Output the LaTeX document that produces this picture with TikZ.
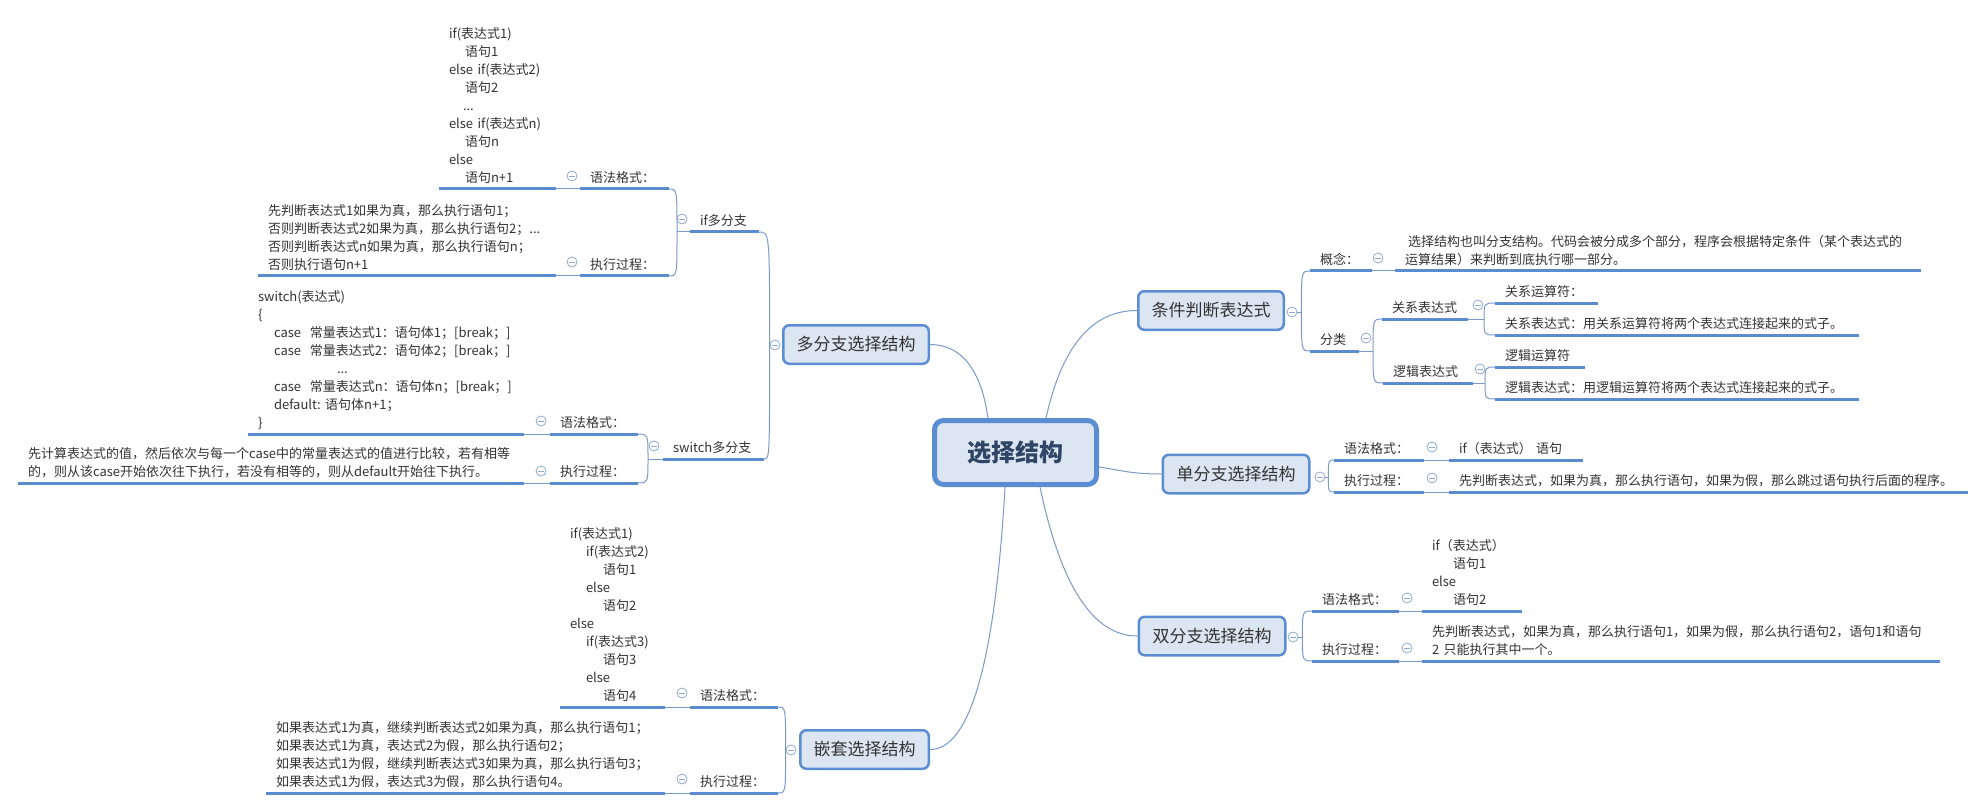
\documentclass[tikz,border=0pt]{standalone}
\usepackage{fontspec}
\setmainfont{Noto Sans CJK SC}
\usetikzlibrary{calc}
\definecolor{boxf}{HTML}{DCE6F2}
\definecolor{bdc}{HTML}{5B8DD3}
\definecolor{ulc}{HTML}{5B8CCF}
\definecolor{lnc}{HTML}{7A9AC8}
\definecolor{btnc}{HTML}{8FAAD2}
\definecolor{txtc}{HTML}{333333}
\definecolor{roottxt}{HTML}{2F4565}
\tikzset{
 root/.style={draw=bdc, line width=5pt, fill=boxf, rounded corners=9pt, inner sep=0pt, minimum width=162pt, minimum height=64pt, font=\fontsize{24}{28}\selectfont\bfseries, text=roottxt},
 lone/.style={draw=bdc, line width=2.5pt, fill=boxf, rounded corners=6pt, inner sep=0pt, minimum height=38.5pt, font=\fontsize{17}{20}\selectfont, text=txtc},
 topic/.style={anchor=south west, inner xsep=10pt, inner ysep=1.5pt, outer sep=0pt, align=left, text width=#1pt, font=\fontsize{13}{18}\selectfont, text=txtc, execute at end node=\strut},
 ul/.style={draw=ulc, line width=3pt},
 conn/.style={draw=lnc, line width=1pt},
 btn/.style={circle, draw=btnc, fill=white, line width=0.8pt, inner sep=0pt, minimum size=10pt, path picture={\draw[btnc, line width=0.8pt] ([xshift=-2.6pt]path picture bounding box.center) -- ([xshift=2.6pt]path picture bounding box.center);}},
}
\begin{document}
\begin{tikzpicture}[x=1pt,y=-1pt]
\fill[white] (0,0) rectangle (1980,810);
\useasboundingbox (0,0) rectangle (1980,810);

% main boxes
\node[root] (root) at (1015.5,452.5) {选择结构};
\node[lone, minimum width=145.5pt] (duo) at (856,344.5) {多分支选择结构};
\node[lone, minimum width=145.5pt] (tj) at (1211,310.5) {条件判断表达式};
\node[lone, minimum width=146.5pt] (dan) at (1236,474) {单分支选择结构};
\node[lone, minimum width=146.5pt] (sh) at (1212,636) {双分支选择结构};
\node[lone, minimum width=128.5pt] (qt) at (864.5,749.5) {嵌套选择结构};

% left topics
\node[topic=97] (ifcode) at (439,189) {if(表达式1)\\
\hspace*{16pt}语句1\\
else~if(表达式2)\\
\hspace*{16pt}语句2\\
\hspace*{14pt}...\\
else~if(表达式n)\\
\hspace*{16pt}语句n\\
else\\
\hspace*{16pt}语句n+1};
\node[topic=69] (iflab1) at (580,189) {语法格式：};
\node[topic=278] (ifexe) at (258,276) {先判断表达式1如果为真，那么执行语句1；\\
否则判断表达式2如果为真，那么执行语句2；...\\
否则判断表达式n如果为真，那么执行语句n；\\
否则执行语句n+1};
\node[topic=69] (iflab2) at (580,276) {执行过程：};
\node[topic=49] (ifm) at (690,232) {if多分支};

\node[topic=256] (swcode) at (248,434) {switch(表达式)\\
\{\\
\hspace*{16pt}case~~常量表达式1：语句体1；[break；]\\
\hspace*{16pt}case~~常量表达式2：语句体2；[break；]\\
\hspace*{79pt}...\\
\hspace*{16pt}case~~常量表达式n：语句体n；[break；]\\
\hspace*{16pt}default:~语句体n+1；\\
\}};
\node[topic=68] (swlab1) at (550,434) {语法格式：};
\node[topic=486] (swexe) at (18,483) {先计算表达式的值，然后依次与每一个case中的常量表达式的值进行比较，若有相等\\
的，则从该case开始依次往下执行，若没有相等的，则从default开始往下执行。};
\node[topic=68] (swlab2) at (550,483) {执行过程：};
\node[topic=81] (swm) at (663,459) {switch多分支};

\node[topic=85] (ncode) at (560,707) {if(表达式1)\\
\hspace*{16pt}if(表达式2)\\
\hspace*{33pt}语句1\\
\hspace*{16pt}else\\
\hspace*{33pt}语句2\\
else\\
\hspace*{16pt}if(表达式3)\\
\hspace*{33pt}语句3\\
\hspace*{16pt}else\\
\hspace*{33pt}语句4};
\node[topic=68] (nlab1) at (690,707) {语法格式：};
\node[topic=379] (nexe) at (266,793) {如果表达式1为真，继续判断表达式2如果为真，那么执行语句1；\\
如果表达式1为真，表达式2为假，那么执行语句2；\\
如果表达式1为假，继续判断表达式3如果为真，那么执行语句3；\\
如果表达式1为假，表达式3为假，那么执行语句4。};
\node[topic=68] (nlab2) at (690,793) {执行过程：};

% right topics
\node[topic=42] (gn) at (1310,271) {概念：};
\node[topic=506] (gnt) at (1395,271) {\hspace*{3pt}选择结构也叫分支结构。代码会被分成多个部分，程序会根据特定条件（某个表达式的\\
运算结果）来判断到底执行哪一部分。};
\node[topic=29] (fl) at (1310,351) {分类};
\node[topic=66] (gx) at (1382,319) {关系表达式};
\node[topic=83] (gx1) at (1495,303) {关系运算符：};
\node[topic=344] (gx2) at (1495,335) {关系表达式：用关系运算符将两个表达式连接起来的式子。};
\node[topic=70] (lj) at (1383,383) {逻辑表达式};
\node[topic=70] (lj1) at (1495,367) {逻辑运算符};
\node[topic=344] (lj2) at (1495,399) {逻辑表达式：用逻辑运算符将两个表达式连接起来的式子。};
\node[topic=70] (d1) at (1334,460) {语法格式：};
\node[topic=114] (d1t) at (1449,460) {if（表达式）~语句};
\node[topic=70] (d2) at (1334,492) {执行过程：};
\node[topic=499] (d2t) at (1449,492) {先判断表达式，如果为真，那么执行语句，如果为假，那么跳过语句执行后面的程序。};
\node[topic=67] (s1) at (1312,611) {语法格式：};
\node[topic=80] (s1t) at (1422,611) {if（表达式）\\
\hspace*{21pt}语句1\\
else\\
\hspace*{21pt}语句2};
\node[topic=67] (s2) at (1312,661) {执行过程：};
\node[topic=498] (s2t) at (1422,661) {先判断表达式，如果为真，那么执行语句1，如果为假，那么执行语句2，语句1和语句\\
2~只能执行其中一个。};

% collapse buttons
\node[btn] (b-duo) at (775,345) {};
\node[btn] (b-tj) at (1292,312) {};
\node[btn] (b-dan) at (1320,477) {};
\node[btn] (b-sh) at (1293,637) {};
\node[btn] (b-qt) at (791,750) {};
\node[btn] (b-ifm) at (682,219) {};
\node[btn] (b-iflab1) at (572,176) {};
\node[btn] (b-iflab2) at (572,262) {};
\node[btn] (b-swm) at (654,446) {};
\node[btn] (b-swlab1) at (541,421) {};
\node[btn] (b-swlab2) at (541,471) {};
\node[btn] (b-nlab1) at (682,693) {};
\node[btn] (b-nlab2) at (682,779) {};
\node[btn] (b-gn) at (1378,258) {};
\node[btn] (b-fl) at (1366,338) {};
\node[btn] (b-gx) at (1478,305) {};
\node[btn] (b-lj) at (1480,369) {};
\node[btn] (b-d1) at (1432,447) {};
\node[btn] (b-d2) at (1432,478) {};
\node[btn] (b-s1) at (1407,598) {};
\node[btn] (b-s2) at (1407,648) {};

% root connectors
\draw[conn] ([xshift=30.5pt]root.north) .. controls +(16,-72) and +(-45,0) .. (tj.west);
\draw[conn] ([xshift=-27.5pt]root.north) .. controls +(-7,-49) and +(31,0) .. (duo.east);
\draw[conn] ([yshift=-14.5pt]root.east) .. controls +(20,3) and +(-30,0) .. (dan.west);
\draw[conn] ([xshift=24.5pt]root.south) .. controls +(21,100) and +(-44,0) .. (sh.west);
\draw[conn] ([xshift=-10.5pt]root.south) .. controls +(-10,175) and +(40,0) .. (qt.east);

% right brackets
\draw[conn] (b-tj.east) -- ++(4,0) coordinate (tjb);
\draw[conn] (tjb) .. controls (tjb |- gn.south west) .. (gn.south west);
\draw[conn] (tjb) .. controls (tjb |- fl.south west) .. (fl.south west);
\draw[conn] (fl.south east) -- ++(14,0) coordinate (flb);
\draw[conn] (flb) .. controls (flb |- gx.south west) .. (gx.south west);
\draw[conn] (flb) .. controls (flb |- lj.south west) .. (lj.south west);
\draw[conn] (gx.south east) -- ++(16,0) coordinate (gxb);
\draw[conn] (gxb) .. controls (gxb |- gx1.south west) .. (gx1.south west);
\draw[conn] (gxb) .. controls (gxb |- gx2.south west) .. (gx2.south west);
\draw[conn] (lj.south east) -- ++(12,0) coordinate (ljb);
\draw[conn] (ljb) .. controls (ljb |- lj1.south west) .. (lj1.south west);
\draw[conn] (ljb) .. controls (ljb |- lj2.south west) .. (lj2.south west);
\draw[conn] (b-dan.east) -- ++(3,0) coordinate (danb);
\draw[conn] (danb) .. controls (danb |- d1.south west) .. (d1.south west);
\draw[conn] (danb) .. controls (danb |- d2.south west) .. (d2.south west);
\draw[conn] (b-sh.east) -- ++(4,0) coordinate (shb);
\draw[conn] (shb) .. controls (shb |- s1.south west) .. (s1.south west);
\draw[conn] (shb) .. controls (shb |- s2.south west) .. (s2.south west);
\draw[conn] (gn.south east) -- (gnt.south west);
\draw[conn] (d1.south east) -- (d1t.south west);
\draw[conn] (d2.south east) -- (d2t.south west);
\draw[conn] (s1.south east) -- (s1t.south west);
\draw[conn] (s2.south east) -- (s2t.south west);

% left brackets
\draw[conn] (b-duo.west) .. controls (b-duo.west |- ifm.south east) .. (ifm.south east);
\draw[conn] (b-duo.west) .. controls (b-duo.west |- swm.south east) .. (swm.south east);
\draw[conn] (ifm.south west) -- ++(-13,0) coordinate (ifb);
\draw[conn] (ifb) .. controls (ifb |- iflab1.south east) .. (iflab1.south east);
\draw[conn] (ifb) .. controls (ifb |- iflab2.south east) .. (iflab2.south east);
\draw[conn] (swm.south west) -- ++(-15,0) coordinate (swb);
\draw[conn] (swb) .. controls (swb |- swlab1.south east) .. (swlab1.south east);
\draw[conn] (swb) .. controls (swb |- swlab2.south east) .. (swlab2.south east);
\draw[conn] (b-qt.west) .. controls (b-qt.west |- nlab1.south east) .. (nlab1.south east);
\draw[conn] (b-qt.west) .. controls (b-qt.west |- nlab2.south east) .. (nlab2.south east);
\draw[conn] (iflab1.south west) -- (ifcode.south east);
\draw[conn] (iflab2.south west) -- (ifexe.south east);
\draw[conn] (swlab1.south west) -- (swcode.south east);
\draw[conn] (swlab2.south west) -- (swexe.south east);
\draw[conn] (nlab1.south west) -- (ncode.south east);
\draw[conn] (nlab2.south west) -- (nexe.south east);

% underlines
\foreach \n in {ifcode,iflab1,ifexe,iflab2,ifm,swcode,swlab1,swexe,swlab2,swm,ncode,nlab1,nexe,nlab2,gn,gnt,fl,gx,gx1,gx2,lj,lj1,lj2,d1,d1t,d2,d2t,s1,s1t,s2,s2t}
  \draw[ul] (\n.south west) -- (\n.south east);
\end{tikzpicture}
\end{document}
